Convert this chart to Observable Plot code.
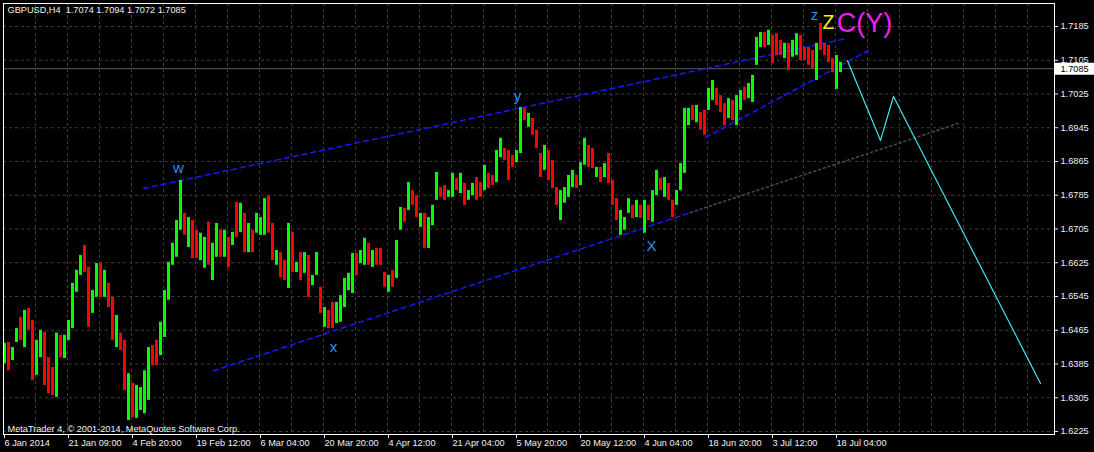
<!DOCTYPE html>
<html>
<head>
<meta charset="utf-8">
<script src="https://cdn.jsdelivr.net/npm/d3@7"></script>
<script src="https://cdn.jsdelivr.net/npm/@observablehq/plot@0.6"></script>
<style>
  html, body { margin: 0; padding: 0; background: #000; }
  svg text { white-space: pre; }
</style>
</head>
<body>
<div id="chart"></div>
<script>
// ---- data ----
const titleText = "GBPUSD,H4  1.7074 1.7094 1.7072 1.7085";
const footerText = "MetaTrader 4, \u00A9 2001-2014, MetaQuotes Software Corp.";
const lastClose = 1.7085;

// price axis ticks
const priceTicks = [1.6225, 1.6305, 1.6385, 1.6465, 1.6545, 1.6625, 1.6705, 1.6785, 1.6865, 1.6945, 1.7025, 1.7105, 1.7185];

// date axis (bar index -> label)
const dateTickBars = [0, 64, 128, 192, 256, 320, 384, 448, 512, 576, 640, 704, 768, 832];
const dateTickLabels = ["6 Jan 2014", "21 Jan 09:00", "4 Feb 20:00", "19 Feb 12:00", "6 Mar 04:00", "20 Mar 20:00", "4 Apr 12:00", "21 Apr 04:00", "5 May 20:00", "20 May 12:00", "4 Jun 04:00", "18 Jun 20:00", "3 Jul 12:00", "18 Jul 04:00"];
const gridBars = d3.range(32, 1051, 32);

// candles: every entry groups 4 consecutive H4 bars
const barsPerCandle = 4;
const candleHigh = [
1.6434,1.6436,1.6424,1.6469,1.6495,1.6512,1.6517,1.6488,1.6441,1.6465,
1.6460,1.6400,1.6377,1.6458,1.6453,1.6453,1.6488,1.6576,1.6607,1.6642,
1.6666,1.6614,1.6559,1.6623,1.6623,1.6607,1.6576,1.6543,1.6500,1.6458,
1.6441,1.6362,1.6339,1.6334,1.6329,1.6369,1.6424,1.6429,1.6441,1.6484,
1.6559,1.6626,1.6671,1.6725,1.6820,1.6742,1.6732,1.6725,1.6702,1.6695,
1.6685,1.6721,1.6671,1.6718,1.6702,1.6702,1.6685,1.6697,1.6768,1.6766,
1.6742,1.6718,1.6702,1.6742,1.6732,1.6777,1.6784,1.6718,1.6654,1.6649,
1.6630,1.6718,1.6697,1.6626,1.6649,1.6649,1.6642,1.6595,1.6649,1.6567,
1.6519,1.6512,1.6531,1.6531,1.6547,1.6588,1.6600,1.6647,1.6647,1.6654,
1.6683,1.6671,1.6654,1.6659,1.6659,1.6602,1.6595,1.6607,1.6678,1.6756,
1.6754,1.6815,1.6796,1.6784,1.6742,1.6742,1.6732,1.6761,1.6839,1.6803,
1.6808,1.6796,1.6837,1.6825,1.6837,1.6813,1.6796,1.6813,1.6827,1.6815,
1.6856,1.6837,1.6832,1.6891,1.6920,1.6896,1.6891,1.6879,1.6891,1.6993,
1.6991,1.6979,1.6967,1.6939,1.6884,1.6903,1.6891,1.6867,1.6803,1.6796,
1.6803,1.6832,1.6844,1.6832,1.6862,1.6920,1.6903,1.6896,1.6851,1.6851,
1.6860,1.6884,1.6820,1.6777,1.6749,1.6732,1.6777,1.6761,1.6773,1.6761,
1.6773,1.6761,1.6796,1.6844,1.6825,1.6827,1.6813,1.6773,1.6796,1.6860,
1.6991,1.6991,1.6998,1.6998,1.6981,1.6986,1.7038,1.7057,1.7038,1.7021,
1.7002,1.7014,1.7010,1.7021,1.7033,1.7041,1.7050,1.7069,1.7159,1.7171,
1.7171,1.7176,1.7164,1.7168,1.7152,1.7145,1.7145,1.7152,1.7168,1.7164,
1.7135,1.7135,1.7128,1.7145,1.7192,1.7145,1.7140,1.7109,1.7116,1.7100];
const candleLow = [
1.6386,1.6369,1.6393,1.6436,1.6441,1.6424,1.6465,1.6346,1.6358,1.6400,
1.6334,1.6315,1.6310,1.6306,1.6400,1.6398,1.6441,1.6469,1.6555,1.6595,
1.6602,1.6472,1.6505,1.6543,1.6543,1.6543,1.6519,1.6441,1.6424,1.6417,
1.6322,1.6251,1.6258,1.6256,1.6275,1.6267,1.6299,1.6381,1.6381,1.6405,
1.6448,1.6536,1.6619,1.6638,1.6702,1.6690,1.6661,1.6635,1.6635,1.6630,
1.6612,1.6619,1.6583,1.6638,1.6638,1.6638,1.6614,1.6666,1.6685,1.6697,
1.6649,1.6649,1.6649,1.6695,1.6690,1.6690,1.6695,1.6630,1.6619,1.6590,
1.6583,1.6564,1.6602,1.6602,1.6583,1.6600,1.6543,1.6571,1.6595,1.6505,
1.6472,1.6469,1.6469,1.6481,1.6484,1.6519,1.6559,1.6552,1.6595,1.6623,
1.6619,1.6619,1.6614,1.6619,1.6619,1.6567,1.6555,1.6567,1.6588,1.6702,
1.6721,1.6749,1.6761,1.6732,1.6709,1.6659,1.6659,1.6713,1.6773,1.6780,
1.6773,1.6780,1.6780,1.6796,1.6789,1.6761,1.6773,1.6784,1.6773,1.6780,
1.6796,1.6801,1.6808,1.6815,1.6874,1.6867,1.6820,1.6851,1.6862,1.6884,
1.6962,1.6946,1.6927,1.6896,1.6827,1.6844,1.6820,1.6801,1.6761,1.6725,
1.6766,1.6780,1.6803,1.6801,1.6808,1.6856,1.6851,1.6848,1.6827,1.6815,
1.6827,1.6813,1.6761,1.6725,1.6690,1.6702,1.6742,1.6730,1.6732,1.6730,
1.6695,1.6725,1.6721,1.6784,1.6796,1.6780,1.6773,1.6732,1.6761,1.6796,
1.6837,1.6950,1.6962,1.6957,1.6939,1.6927,1.6986,1.7010,1.6998,1.6981,
1.6950,1.6967,1.6962,1.6950,1.6986,1.7010,1.7014,1.7005,1.7093,1.7135,
1.7135,1.7140,1.7097,1.7116,1.7116,1.7109,1.7081,1.7112,1.7116,1.7104,
1.7104,1.7093,1.7085,1.7057,1.7128,1.7116,1.7100,1.7076,1.7036,1.7076];
const candleUp = [
1,0,1,1,0,1,0,0,1,1, 0,0,0,1,0,1,1,1,1,1, 0,0,1,1,0,1,0,0,1,0,
0,1,0,1,1,1,1,0,0,1, 1,1,1,1,1,0,1,0,0,1, 1,0,1,1,0,1,0,1,0,1,
0,1,0,1,1,1,0,0,1,0, 0,1,0,1,0,1,0,1,1,0, 1,0,0,1,1,1,1,1,0,1,
1,0,1,0,0,0,1,0,1,1, 0,1,0,0,1,0,1,1,1,0, 0,1,1,0,1,0,1,1,0,0,
1,0,0,1,1,0,0,0,1,1, 0,1,0,0,0,1,0,0,0,1, 1,1,1,0,1,1,0,0,1,0,
1,0,0,0,1,1,1,0,1,0, 1,0,1,1,0,1,0,0,1,1, 1,1,0,1,0,0,1,1,0,0,
0,1,0,1,1,0,1,1,1,1, 0,1,0,0,0,1,0,1,1,0, 0,0,0,1,0,0,0,0,1,1];

// trend lines (bar index, price)
const upperChannelBars = [140, 844];
const upperChannelPrices = [1.6801, 1.7157];
const innerChannelBars = [702, 865];
const innerChannelPrices = [1.6922, 1.7128];
const lowerChannelBars = [210, 687];
const lowerChannelPrices = [1.6369, 1.6744];
const lowerExtensionBars = [687, 957];
const lowerExtensionPrices = [1.6744, 1.6957];
const projectionBars = [844, 877, 890, 1037];
const projectionPrices = [1.7104, 1.6915, 1.7019, 1.6339];

// wave labels
const waveLabels = ["w", "x", "y", "X", "z"];
const waveBars = [175, 330, 514, 648, 811];
const wavePrices = [1.6850, 1.6424, 1.7019, 1.6665, 1.7211];
const bigLabels = ["Z", "C(Y)"];
const bigBars = [825, 861];
const bigPrices = [1.7195, 1.7192];

// ---- build ----
const candles = candleHigh.map((h, g) => ({
  bar: g * barsPerCandle, high: h, low: candleLow[g], up: candleUp[g] === 1
}));
const toPts = (bars, prices) => bars.map((b, k) => ({bar: b, price: prices[k]}));
const labelOf = new Map(dateTickBars.map((b, k) => [b, dateTickLabels[k]]));
const waves = waveLabels.map((t, k) => ({t, bar: waveBars[k], price: wavePrices[k]}));
const bigs = bigLabels.map((t, k) => ({t, bar: bigBars[k], price: bigPrices[k]}));

const font = "'Liberation Sans', Arial, sans-serif";
const axisColor = "#f2f2f2";

const chart = Plot.plot({
  width: 1094,
  height: 452,
  marginLeft: 3,
  marginRight: 40,
  marginTop: 3,
  marginBottom: 18,
  style: {background: "#000", color: axisColor, fontFamily: font, fontSize: "9.2px"},
  x: {domain: [0, 1051], axis: null},
  y: {domain: [1.62179, 1.72395], axis: null},
  marks: [
    Plot.gridY(priceTicks, {stroke: "#3c3c3c", strokeOpacity: 1, strokeDasharray: "3,3"}),
    Plot.gridX(gridBars, {stroke: "#3c3c3c", strokeOpacity: 1, strokeDasharray: "3,3"}),
    Plot.ruleY([lastClose], {stroke: "#5c5c5c"}),
    Plot.line(toPts(lowerExtensionBars, lowerExtensionPrices), {x: "bar", y: "price", stroke: "#4a4a5a", strokeDasharray: "2,3"}),
    Plot.line(toPts(lowerChannelBars, lowerChannelPrices), {x: "bar", y: "price", stroke: "#1818ff", strokeDasharray: "5,4"}),
    Plot.line(toPts(upperChannelBars, upperChannelPrices), {x: "bar", y: "price", stroke: "#1818ff", strokeDasharray: "5,4"}),
    Plot.line(toPts(innerChannelBars, innerChannelPrices), {x: "bar", y: "price", stroke: "#1818ff", strokeDasharray: "5,4"}),
    Plot.rect(candles.filter(d => d.up), {x1: "bar", x2: d => d.bar + barsPerCandle, y1: "low", y2: "high", fill: "#00ff00", insetRight: 1}),
    Plot.rect(candles.filter(d => !d.up), {x1: "bar", x2: d => d.bar + barsPerCandle, y1: "low", y2: "high", fill: "#ff0000", insetRight: 1}),
    Plot.line(toPts(projectionBars, projectionPrices), {x: "bar", y: "price", stroke: "#40e6f2", strokeWidth: 1.2}),
    Plot.text(waves, {x: "bar", y: "price", text: "t", fill: "#2f8fea", fontSize: 15, fontFamily: font}),
    Plot.text(bigs, {x: "bar", y: "price", text: "t", fill: (d) => d.t === "Z" ? "#f5f500" : "#f020f0", fontSize: (d) => d.t === "Z" ? 19.5 : 27, fontFamily: font}),
    Plot.axisY(priceTicks, {anchor: "right", label: null, tickSize: 3, tickPadding: 3, tickFormat: d => d.toFixed(4), fill: axisColor, stroke: axisColor}),
    Plot.axisX(dateTickBars, {anchor: "bottom", label: null, tickSize: 4, tickPadding: 1, tickFormat: d => labelOf.get(d), textAnchor: "start", dx: 1, fill: axisColor, stroke: axisColor}),
    Plot.ruleY([lastClose], {x1: 1052, x2: 1091, stroke: "#ffffff", strokeWidth: 12, clip: false}),
    Plot.text([lastClose], {y: d => d, frameAnchor: "right", dx: 6, textAnchor: "start", text: d => d.toFixed(4), fill: "#000"}),
    Plot.frame({stroke: "#ffffff"}),
    Plot.text([titleText], {frameAnchor: "top-left", dx: 4, dy: 3, textAnchor: "start", lineAnchor: "top", text: d => d, fill: axisColor}),
    Plot.text([footerText], {frameAnchor: "bottom-left", dx: 4, dy: -3, textAnchor: "start", lineAnchor: "bottom", text: d => d, fill: axisColor})
  ]
});
document.getElementById("chart").appendChild(chart);
</script>
</body>
</html>
